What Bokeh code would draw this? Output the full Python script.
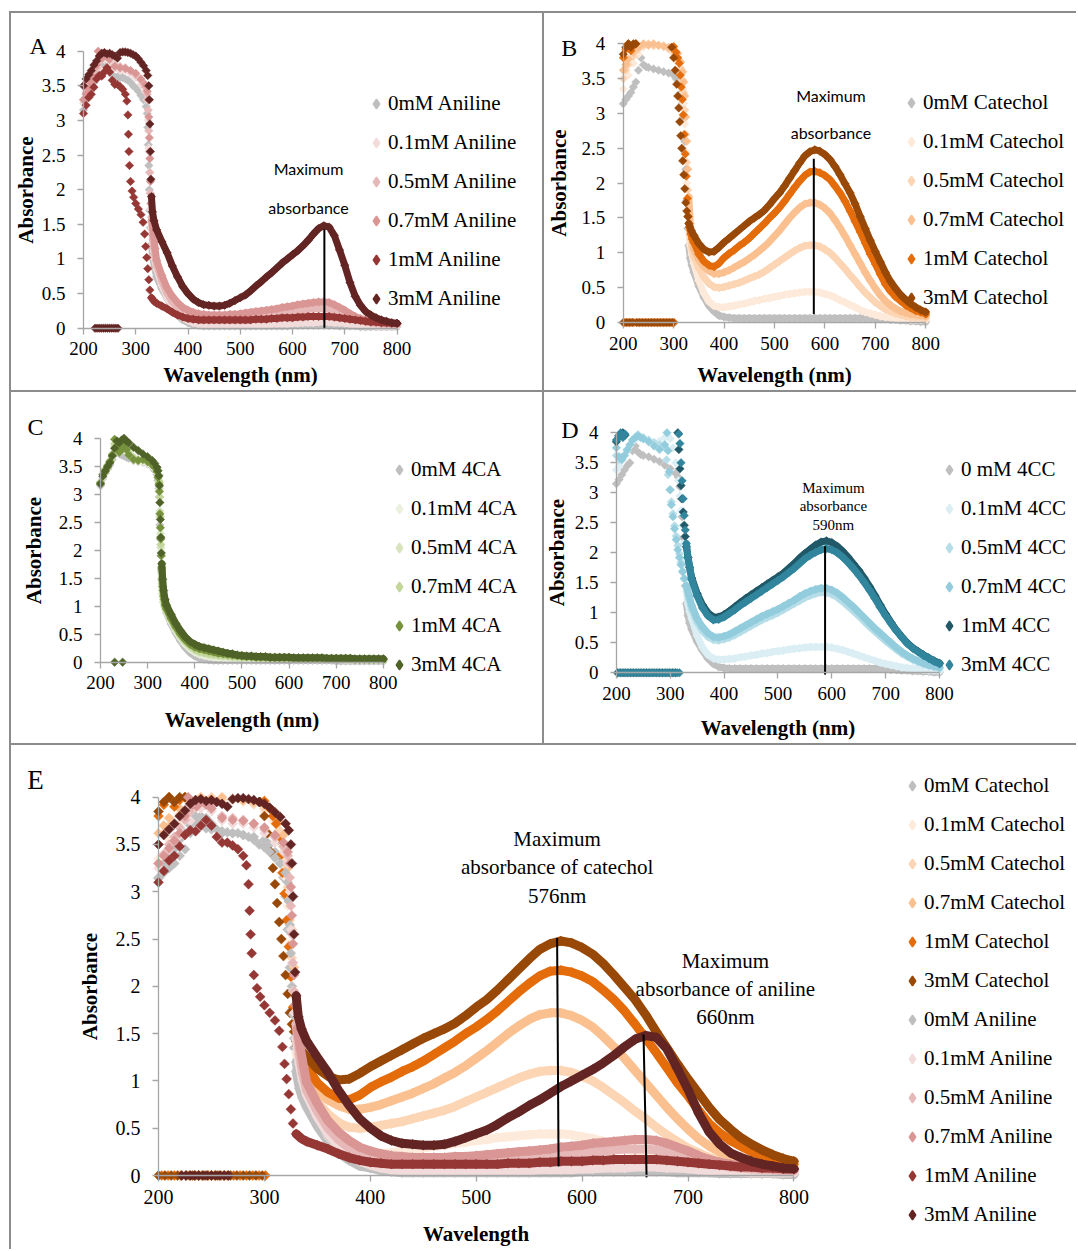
import math
from bokeh.plotting import figure
from bokeh.models import FixedTicker, NumeralTickFormatter, Legend, LegendItem, Label, Div
from bokeh.layouts import column, row
from bokeh.embed import file_html
from bokeh.resources import INLINE

# ---------------- axis ticks ----------------
X_TICKS = [200, 300, 400, 500, 600, 700, 800]
Y_TICKS = [0, 0.5, 1, 1.5, 2, 2.5, 3, 3.5, 4]

# shared visible-range wavelengths (nm)
WL_VIS = [340, 350, 360, 370, 380, 390, 400, 410, 420, 430,
          440, 450, 460, 470, 480, 490, 500, 510, 520, 530,
          540, 550, 560, 570, 580, 590, 600, 610, 620, 630,
          640, 650, 660, 670, 680, 690, 700, 710, 720, 730,
          740, 750, 760, 770, 780, 790, 800]

# ---------------- Aniline ----------------
ANILINE_LABELS = ["0mM Aniline", "0.1mM Aniline", "0.5mM Aniline", "0.7mM Aniline", "1mM Aniline", "3mM Aniline"]
ANILINE_COLORS = ["#BFBFBF", "#F2DCDB", "#E6B9B8", "#D99694", "#953735", "#632523"]

N0_UV_WL = [200, 205, 210, 215, 220, 225, 230, 235, 240, 245, 250, 255, 260, 265, 270, 275, 280, 285, 290, 295,
            300, 305, 310, 315, 320, 322, 323, 324, 325, 326, 327, 328, 330, 333, 336]
N0_UV_AB = [3.15, 3.30, 3.40, 3.45, 3.55, 3.62, 3.70, 3.75, 3.80, 3.78, 3.72, 3.66, 3.62, 3.63, 3.62, 3.62, 3.60, 3.58,
            3.55, 3.50, 3.47, 3.42, 3.36, 3.30, 3.20, 3.10, 2.90, 2.65, 2.35, 2.00, 1.70, 1.45, 1.20, 1.00, 0.88]
N0_VIS = [0.74, 0.57, 0.43, 0.30, 0.19, 0.12, 0.08, 0.05, 0.04, 0.03,
          0.03, 0.03, 0.03, 0.03, 0.03, 0.03, 0.03, 0.03, 0.03, 0.03,
          0.03, 0.03, 0.03, 0.03, 0.03, 0.03, 0.04, 0.04, 0.04, 0.04,
          0.04, 0.04, 0.04, 0.04, 0.04, 0.03, 0.03, 0.03, 0.03, 0.02,
          0.02, 0.02, 0.02, 0.02, 0.02, 0.02, 0.02]

N01_UV_WL = [200, 210, 220, 230, 240, 250, 260, 270, 280, 290, 300, 310, 318, 322, 324, 325, 326, 327, 328, 330, 333, 336]
N01_UV_AB = [3.25, 3.45, 3.60, 3.75, 3.88, 3.85, 3.75, 3.72, 3.72, 3.68, 3.62, 3.52, 3.42, 3.30, 3.00, 2.60, 2.25,
             1.95, 1.72, 1.45, 1.18, 1.00]
N01_VIS = [0.85, 0.62, 0.44, 0.31, 0.22, 0.15, 0.11, 0.08, 0.06, 0.05,
           0.05, 0.05, 0.05, 0.05, 0.05, 0.05, 0.05, 0.05, 0.05, 0.05,
           0.05, 0.05, 0.06, 0.06, 0.06, 0.06, 0.07, 0.07, 0.08, 0.08,
           0.08, 0.09, 0.09, 0.09, 0.08, 0.08, 0.07, 0.06, 0.05, 0.05,
           0.04, 0.04, 0.03, 0.03, 0.03, 0.03, 0.03]

N05_UV_WL = [200, 205, 210, 215, 220, 225, 230, 235, 240, 245, 250, 260, 270, 280, 290, 300, 310, 318, 322, 324,
             325, 326, 327, 328, 330, 333, 336]
N05_UV_AB = [3.30, 3.40, 3.50, 3.58, 3.68, 3.76, 3.85, 3.92, 3.97, 3.94, 3.90, 3.80, 3.78, 3.76, 3.72, 3.66, 3.58,
             3.48, 3.38, 3.15, 2.85, 2.55, 2.25, 1.95, 1.60, 1.28, 1.08]
N05_VIS = [0.90, 0.68, 0.50, 0.38, 0.29, 0.23, 0.19, 0.16, 0.15, 0.14,
           0.13, 0.13, 0.13, 0.13, 0.14, 0.14, 0.15, 0.15, 0.16, 0.17,
           0.18, 0.19, 0.20, 0.21, 0.22, 0.23, 0.24, 0.25, 0.26, 0.27,
           0.28, 0.28, 0.28, 0.27, 0.25, 0.22, 0.19, 0.16, 0.13, 0.11,
           0.09, 0.08, 0.07, 0.06, 0.06, 0.05, 0.05]

N07_UV_WL = [200, 205, 210, 215, 220, 225, 228, 232, 236, 240, 245, 250, 260, 270, 280, 290, 300, 310, 318, 322,
             324, 325, 326, 327, 328, 329, 331, 334, 337]
N07_UV_AB = [3.30, 3.38, 3.46, 3.54, 3.62, 3.80, 4.00, 3.92, 3.90, 3.95, 3.92, 3.88, 3.78, 3.76, 3.75, 3.72, 3.68,
             3.60, 3.52, 3.42, 3.30, 3.05, 2.75, 2.45, 2.12, 1.80, 1.55, 1.34, 1.15]
N07_VIS = [0.98, 0.76, 0.58, 0.46, 0.37, 0.30, 0.26, 0.23, 0.21, 0.20,
           0.19, 0.19, 0.19, 0.19, 0.20, 0.20, 0.21, 0.22, 0.23, 0.24,
           0.25, 0.26, 0.27, 0.28, 0.30, 0.31, 0.32, 0.34, 0.35, 0.36,
           0.37, 0.38, 0.38, 0.37, 0.34, 0.30, 0.26, 0.21, 0.17, 0.14,
           0.12, 0.10, 0.09, 0.08, 0.07, 0.07, 0.06]

N1_UV_WL = [200, 205, 210, 215, 220, 225, 230, 235, 240, 245, 250, 255, 260, 265, 270, 275, 280, 283, 285, 286,
            287, 288, 290, 293, 296, 300, 305, 310, 314, 317, 319, 321, 323, 325, 327, 330, 335]
N1_UV_AB = [3.10, 3.22, 3.33, 3.38, 3.48, 3.60, 3.65, 3.64, 3.70, 3.76, 3.70, 3.58, 3.52, 3.52, 3.49, 3.45, 3.38,
            3.28, 3.08, 2.80, 2.55, 2.35, 2.12, 1.98, 1.89, 1.80, 1.72, 1.64, 1.53, 1.36, 1.18, 1.02, 0.86, 0.70,
            0.55, 0.44, 0.39]
N1_VIS = [0.36, 0.32, 0.28, 0.23, 0.19, 0.16, 0.14, 0.13, 0.12, 0.12,
          0.12, 0.12, 0.12, 0.12, 0.12, 0.12, 0.12, 0.12, 0.12, 0.13,
          0.13, 0.13, 0.14, 0.14, 0.15, 0.15, 0.15, 0.16, 0.16, 0.17,
          0.17, 0.17, 0.17, 0.17, 0.16, 0.15, 0.14, 0.13, 0.12, 0.11,
          0.10, 0.09, 0.09, 0.08, 0.08, 0.07, 0.07]

N3_UV_WL = [200, 205, 210, 215, 220, 225, 230, 235, 240, 245, 250, 255, 260, 265, 270, 275, 280, 285, 290, 295,
            300, 305, 310, 315, 320, 323, 325, 326, 327, 328, 329, 330, 332, 335]
N3_UV_AB = [3.50, 3.60, 3.66, 3.72, 3.80, 3.86, 3.93, 3.97, 3.98, 3.96, 3.97, 3.95, 3.93, 3.90, 3.98, 3.99, 3.99,
            3.98, 3.97, 3.95, 3.93, 3.89, 3.84, 3.79, 3.72, 3.65, 3.50, 3.30, 2.95, 2.55, 2.15, 1.90, 1.68, 1.55]
N3_VIS = [1.42, 1.25, 1.09, 0.90, 0.74, 0.60, 0.50, 0.42, 0.37, 0.34,
          0.33, 0.32, 0.32, 0.33, 0.36, 0.40, 0.44, 0.48, 0.54, 0.61,
          0.67, 0.74, 0.80, 0.87, 0.94, 1.00, 1.06, 1.12, 1.19, 1.27,
          1.36, 1.44, 1.48, 1.46, 1.34, 1.13, 0.91, 0.66, 0.46, 0.33,
          0.24, 0.19, 0.15, 0.12, 0.10, 0.08, 0.07]
N3_ZEROS = [222, 226, 230, 234, 238, 242, 246, 250, 254, 258, 262, 266]

# ---------------- Catechol ----------------
CATECHOL_LABELS = ["0mM Catechol", "0.1mM Catechol", "0.5mM Catechol", "0.7mM Catechol", "1mM Catechol", "3mM Catechol"]
CATECHOL_COLORS = ["#BFBFBF", "#FDEADA", "#FCD5B5", "#FAC090", "#E46C0A", "#984807"]

C0_UV_WL = [200, 205, 210, 215, 220, 225, 230, 235, 240, 245, 250, 260, 270, 280, 290, 300, 305, 310, 315, 318,
            320, 322, 324, 326, 328, 330, 333, 336]
C0_UV_AB = [3.14, 3.20, 3.25, 3.30, 3.38, 3.45, 3.62, 3.80, 3.70, 3.67, 3.66, 3.64, 3.62, 3.60, 3.58, 3.55, 3.50,
            3.42, 3.30, 3.15, 2.95, 2.60, 2.20, 1.75, 1.35, 1.10, 0.92, 0.82]
C0_VIS = [0.72, 0.52, 0.36, 0.24, 0.16, 0.10, 0.08, 0.07, 0.06, 0.06,
          0.06, 0.06, 0.06, 0.06, 0.06, 0.06, 0.06, 0.06, 0.06, 0.06,
          0.06, 0.06, 0.06, 0.06, 0.06, 0.06, 0.06, 0.06, 0.06, 0.06,
          0.06, 0.06, 0.06, 0.06, 0.06, 0.06, 0.06, 0.05, 0.05, 0.04,
          0.04, 0.03, 0.03, 0.02, 0.02, 0.01, 0.01]

C01_UV_WL = [200, 210, 220, 230, 240, 250, 260, 270, 280, 290, 300, 308, 314, 318, 320, 322, 324, 326, 328, 330, 333, 336]
C01_UV_AB = [3.35, 3.55, 3.72, 3.85, 3.95, 4.00, 3.98, 3.97, 3.95, 3.92, 3.85, 3.75, 3.55, 3.35, 3.15, 2.85, 2.45,
             2.00, 1.60, 1.30, 1.10, 0.98]
C01_VIS = [0.85, 0.60, 0.42, 0.30, 0.24, 0.22, 0.22, 0.23, 0.24, 0.26,
           0.27, 0.29, 0.31, 0.32, 0.34, 0.35, 0.37, 0.38, 0.40, 0.41,
           0.42, 0.43, 0.44, 0.44, 0.44, 0.43, 0.41, 0.39, 0.36, 0.32,
           0.29, 0.25, 0.22, 0.18, 0.15, 0.13, 0.11, 0.09, 0.08, 0.07,
           0.06, 0.05, 0.05, 0.04, 0.04, 0.04, 0.04]

C05_UV_WL = [200, 205, 210, 220, 230, 240, 250, 260, 270, 280, 290, 300, 308, 314, 318, 320, 322, 324, 326, 328,
             330, 333, 336]
C05_UV_AB = [3.50, 3.62, 3.70, 3.82, 3.92, 3.98, 4.00, 3.97, 3.98, 3.96, 3.93, 3.88, 3.80, 3.65, 3.48, 3.30, 3.05,
             2.70, 2.30, 1.90, 1.55, 1.25, 1.08]
C05_VIS = [0.95, 0.78, 0.65, 0.56, 0.51, 0.50, 0.51, 0.53, 0.55, 0.57,
           0.60, 0.63, 0.66, 0.69, 0.73, 0.78, 0.83, 0.88, 0.93, 0.98,
           1.03, 1.07, 1.10, 1.11, 1.11, 1.09, 1.05, 1.00, 0.93, 0.85,
           0.77, 0.68, 0.60, 0.51, 0.43, 0.36, 0.29, 0.24, 0.19, 0.16,
           0.13, 0.11, 0.09, 0.08, 0.07, 0.07, 0.06]

C07_UV_WL = [200, 205, 210, 220, 230, 240, 250, 260, 270, 280, 290, 300, 308, 314, 318, 320, 322, 324, 326, 328,
             330, 333, 336]
C07_UV_AB = [3.62, 3.70, 3.78, 3.88, 3.95, 4.00, 3.98, 4.00, 3.98, 3.97, 3.95, 3.92, 3.86, 3.74, 3.60, 3.45, 3.25,
             2.95, 2.60, 2.20, 1.80, 1.42, 1.20]
C07_VIS = [1.05, 0.90, 0.80, 0.74, 0.70, 0.70, 0.72, 0.75, 0.79, 0.83,
           0.87, 0.92, 0.97, 1.03, 1.09, 1.16, 1.24, 1.32, 1.41, 1.50,
           1.58, 1.65, 1.70, 1.72, 1.72, 1.69, 1.64, 1.57, 1.47, 1.36,
           1.24, 1.11, 0.98, 0.85, 0.72, 0.60, 0.49, 0.39, 0.31, 0.25,
           0.20, 0.16, 0.14, 0.12, 0.11, 0.10, 0.09]

C1_UV_WL = [200, 205, 210, 215, 220, 225, 300, 305, 308, 311, 313, 315, 317, 319, 321, 323, 325, 327, 329, 331, 334, 337]
C1_UV_AB = [3.80, 3.92, 4.00, 3.90, 3.97, 4.00, 3.96, 3.88, 3.80, 3.72, 3.55, 3.38, 3.20, 2.98, 2.70, 2.42, 2.10,
            1.78, 1.52, 1.37, 1.27, 1.20]
C1_VIS = [1.15, 0.98, 0.88, 0.82, 0.80, 0.85, 0.93, 0.99, 1.04, 1.10,
          1.15, 1.21, 1.28, 1.35, 1.42, 1.50, 1.57, 1.65, 1.74, 1.84,
          1.94, 2.03, 2.11, 2.16, 2.17, 2.15, 2.11, 2.05, 1.96, 1.86,
          1.74, 1.60, 1.45, 1.30, 1.14, 0.98, 0.84, 0.69, 0.55, 0.45,
          0.37, 0.31, 0.25, 0.21, 0.17, 0.15, 0.12]
C1_ZEROS = [203, 209, 215, 221, 229, 235, 241, 247, 253, 259, 265, 271, 277, 283, 289, 295, 301]

C3_UV_WL = [200, 205, 210, 215, 220, 225, 296, 300, 303, 306, 308, 310, 312, 314, 316, 318, 320, 322, 324, 326,
            328, 330, 335]
C3_UV_AB = [3.85, 3.95, 4.00, 3.95, 4.00, 4.00, 3.95, 3.80, 3.62, 3.42, 3.25, 3.08, 2.88, 2.68, 2.50, 2.32, 2.12,
            1.92, 1.72, 1.60, 1.52, 1.42, 1.32]
C3_VIS = [1.25, 1.13, 1.05, 1.01, 1.02, 1.08, 1.15, 1.21, 1.27, 1.33,
          1.39, 1.45, 1.50, 1.55, 1.61, 1.69, 1.78, 1.86, 1.96, 2.07,
          2.18, 2.29, 2.39, 2.45, 2.48, 2.46, 2.41, 2.34, 2.24, 2.12,
          1.99, 1.86, 1.70, 1.52, 1.35, 1.18, 1.02, 0.87, 0.72, 0.59,
          0.49, 0.40, 0.33, 0.27, 0.22, 0.18, 0.15]
C3_ZEROS = [200, 206, 212, 218, 226, 232, 238, 244, 250, 256, 262, 268, 274, 280, 286, 292, 298]

# ---------------- 4CA ----------------
CA_LABELS = ["0mM 4CA", "0.1mM 4CA", "0.5mM 4CA", "0.7mM 4CA", "1mM 4CA", "3mM 4CA"]
CA_COLORS = ["#BFBFBF", "#EBF1DE", "#D7E4BD", "#C3D69B", "#76923C", "#4F6228"]
CA_UV_WL = [200, 205, 210, 215, 220, 225, 230, 235, 240, 245, 250, 255, 260, 270, 280, 290, 300, 310, 315, 320,
            322, 324, 325, 326, 327, 328, 329, 330, 332, 334, 337]
CA0_UV = [3.15, 3.28, 3.38, 3.45, 3.52, 3.62, 3.72, 3.80, 3.72, 3.70, 3.68, 3.66, 3.64, 3.60, 3.58, 3.57, 3.54,
          3.48, 3.42, 3.35, 3.25, 3.10, 2.95, 2.45, 2.20, 1.90, 1.65, 1.45, 1.22, 1.08, 0.98]
CA01_UV = [3.18, 3.30, 3.42, 3.48, 3.56, 3.66, 3.82, 3.80, 3.76, 3.78, 3.80, 3.76, 3.70, 3.62, 3.58, 3.58, 3.55,
           3.50, 3.45, 3.38, 3.30, 3.20, 3.05, 2.60, 2.25, 2.00, 1.58, 1.35, 1.18, 1.05, 0.95]
CA05_UV = [3.20, 3.34, 3.44, 3.50, 3.58, 3.70, 3.86, 3.84, 3.78, 3.80, 3.84, 3.80, 3.72, 3.64, 3.60, 3.60, 3.57,
           3.52, 3.47, 3.40, 3.32, 3.22, 3.10, 2.70, 2.30, 2.05, 1.62, 1.40, 1.22, 1.08, 0.98]
CA07_UV = [3.22, 3.36, 3.45, 3.52, 3.60, 3.72, 3.90, 3.88, 3.80, 3.82, 3.88, 3.82, 3.75, 3.66, 3.62, 3.63, 3.60,
           3.55, 3.50, 3.42, 3.34, 3.24, 3.20, 2.95, 2.60, 2.10, 1.70, 1.50, 1.28, 1.12, 1.00]
CA1_UV = [3.20, 3.35, 3.40, 3.48, 3.58, 3.70, 3.98, 3.85, 3.75, 3.80, 3.85, 3.80, 3.70, 3.62, 3.60, 3.62, 3.58,
          3.52, 3.48, 3.40, 3.30, 3.18, 3.05, 2.65, 2.40, 2.20, 1.90, 1.68, 1.35, 1.18, 1.02]
CA3_UV = [3.18, 3.32, 3.42, 3.50, 3.56, 3.68, 3.82, 3.95, 3.92, 3.97, 4.00, 3.95, 3.92, 3.84, 3.78, 3.72, 3.67,
          3.60, 3.55, 3.48, 3.42, 3.33, 3.15, 2.85, 2.55, 2.23, 1.95, 1.76, 1.48, 1.28, 1.12]
CA0_VIS = [0.88, 0.68, 0.52, 0.38, 0.26, 0.17, 0.11, 0.07, 0.05, 0.04,
           0.03, 0.03, 0.03, 0.03, 0.03, 0.03, 0.03, 0.03, 0.03, 0.03,
           0.03, 0.03, 0.03, 0.03, 0.03, 0.03, 0.03, 0.03, 0.03, 0.03,
           0.03, 0.03, 0.03, 0.03, 0.03, 0.03, 0.02, 0.02, 0.02, 0.02,
           0.02, 0.02, 0.02, 0.02, 0.02, 0.02, 0.02]
CA01_VIS = [0.90, 0.72, 0.56, 0.43, 0.32, 0.24, 0.18, 0.14, 0.12, 0.10,
            0.09, 0.08, 0.08, 0.07, 0.07, 0.07, 0.07, 0.07, 0.06, 0.06,
            0.06, 0.06, 0.06, 0.06, 0.06, 0.06, 0.06, 0.05, 0.05, 0.05,
            0.05, 0.05, 0.05, 0.05, 0.05, 0.05, 0.05, 0.05, 0.04, 0.04,
            0.04, 0.04, 0.04, 0.04, 0.04, 0.04, 0.04]
CA05_VIS = [0.92, 0.74, 0.58, 0.45, 0.35, 0.27, 0.21, 0.17, 0.15, 0.13,
            0.12, 0.11, 0.10, 0.10, 0.09, 0.09, 0.08, 0.08, 0.08, 0.08,
            0.07, 0.07, 0.07, 0.07, 0.07, 0.07, 0.07, 0.06, 0.06, 0.06,
            0.06, 0.06, 0.06, 0.06, 0.06, 0.05, 0.05, 0.05, 0.05, 0.05,
            0.05, 0.05, 0.05, 0.04, 0.04, 0.04, 0.04]
CA07_VIS = [0.93, 0.76, 0.60, 0.47, 0.37, 0.29, 0.23, 0.19, 0.17, 0.15,
            0.14, 0.13, 0.12, 0.11, 0.10, 0.10, 0.09, 0.09, 0.09, 0.08,
            0.08, 0.08, 0.08, 0.08, 0.07, 0.07, 0.07, 0.07, 0.07, 0.07,
            0.07, 0.06, 0.06, 0.06, 0.06, 0.06, 0.06, 0.06, 0.06, 0.05,
            0.05, 0.05, 0.05, 0.05, 0.05, 0.05, 0.05]
CA1_VIS = [0.95, 0.78, 0.63, 0.50, 0.40, 0.32, 0.27, 0.24, 0.22, 0.20,
           0.18, 0.16, 0.15, 0.14, 0.13, 0.12, 0.11, 0.10, 0.10, 0.09,
           0.09, 0.09, 0.08, 0.08, 0.08, 0.08, 0.08, 0.07, 0.07, 0.07,
           0.07, 0.07, 0.07, 0.07, 0.06, 0.06, 0.06, 0.06, 0.06, 0.06,
           0.05, 0.05, 0.05, 0.05, 0.05, 0.05, 0.05]
CA3_VIS = [1.02, 0.85, 0.69, 0.56, 0.45, 0.37, 0.32, 0.28, 0.26, 0.24,
           0.22, 0.20, 0.18, 0.16, 0.15, 0.13, 0.12, 0.11, 0.11, 0.10,
           0.10, 0.10, 0.09, 0.09, 0.09, 0.09, 0.09, 0.08, 0.08, 0.08,
           0.08, 0.08, 0.08, 0.08, 0.07, 0.07, 0.07, 0.07, 0.07, 0.07,
           0.06, 0.06, 0.06, 0.06, 0.06, 0.06, 0.06]
CA3_ZEROS = [230, 247]

# ---------------- 4CC ----------------
CC_LABELS = ["0 mM 4CC", "0.1mM 4CC", "0.5mM 4CC", "0.7mM 4CC", "1mM 4CC", "3mM 4CC"]
CC_COLORS = ["#BFBFBF", "#DBEEF4", "#B7DEE8", "#93CDDD", "#215968", "#31859C"]

D0_UV_WL = [200, 205, 210, 215, 220, 225, 230, 235, 240, 245, 250, 260, 270, 280, 290, 300, 310, 315, 318, 320,
            322, 324, 326, 328, 330, 333, 336]
D0_UV_AB = [3.15, 3.22, 3.30, 3.38, 3.45, 3.50, 3.70, 3.78, 3.68, 3.64, 3.62, 3.60, 3.56, 3.52, 3.46, 3.40, 3.32,
            3.26, 3.10, 2.90, 2.60, 2.25, 1.85, 1.45, 1.15, 0.95, 0.83]
D0_VIS = [0.72, 0.52, 0.37, 0.24, 0.15, 0.10, 0.08, 0.07, 0.07, 0.07,
          0.07, 0.07, 0.07, 0.07, 0.07, 0.07, 0.07, 0.07, 0.07, 0.07,
          0.07, 0.07, 0.07, 0.07, 0.07, 0.07, 0.07, 0.07, 0.07, 0.07,
          0.07, 0.07, 0.07, 0.07, 0.07, 0.07, 0.06, 0.05, 0.05, 0.04,
          0.04, 0.03, 0.03, 0.02, 0.02, 0.01, 0.01]

D01_UV_WL = [200, 205, 210, 215, 220, 225, 230, 235, 240, 250, 260, 270, 280, 290, 295, 300, 305, 310, 315, 318,
             320, 322, 324, 326, 328, 330, 333, 336]
D01_UV_AB = [3.38, 3.45, 3.55, 3.62, 3.70, 3.78, 3.85, 3.90, 3.92, 3.90, 3.85, 3.82, 3.86, 3.92, 3.95, 3.90, 3.75,
             3.50, 3.20, 2.95, 2.70, 2.45, 2.15, 1.85, 1.55, 1.35, 1.15, 1.02]
D01_VIS = [0.90, 0.62, 0.42, 0.30, 0.24, 0.22, 0.22, 0.23, 0.24, 0.26,
           0.27, 0.29, 0.30, 0.32, 0.33, 0.35, 0.36, 0.37, 0.39, 0.40,
           0.41, 0.42, 0.43, 0.43, 0.43, 0.43, 0.42, 0.40, 0.38, 0.35,
           0.32, 0.29, 0.26, 0.23, 0.20, 0.17, 0.15, 0.13, 0.11, 0.09,
           0.08, 0.07, 0.06, 0.05, 0.04, 0.04, 0.03]

D05_UV_WL = [200, 205, 210, 220, 230, 240, 250, 260, 270, 280, 290, 293, 296, 299, 302, 305, 308, 311, 314, 317,
             320, 323, 326, 330, 335]
D05_UV_AB = [3.62, 3.55, 3.60, 3.70, 3.88, 3.97, 3.92, 3.88, 3.84, 3.80, 3.75, 3.55, 3.30, 3.05, 2.85, 2.65, 2.45,
             2.28, 2.12, 1.98, 1.84, 1.70, 1.57, 1.42, 1.22]
D05_VIS = [1.05, 0.84, 0.70, 0.60, 0.55, 0.54, 0.56, 0.59, 0.63, 0.68,
           0.73, 0.78, 0.83, 0.88, 0.92, 0.96, 1.00, 1.05, 1.10, 1.15,
           1.20, 1.25, 1.29, 1.32, 1.34, 1.34, 1.31, 1.26, 1.19, 1.11,
           1.03, 0.95, 0.86, 0.77, 0.69, 0.61, 0.53, 0.46, 0.39, 0.32,
           0.27, 0.22, 0.18, 0.15, 0.12, 0.10, 0.08]

D07_UV_WL = [200, 205, 210, 215, 220, 225, 230, 235, 240, 245, 250, 260, 270, 280, 290, 294, 296, 298, 300, 302,
             305, 308, 311, 314, 317, 320, 323, 326, 330, 335]
D07_UV_AB = [3.75, 3.60, 3.55, 3.62, 3.72, 3.80, 3.88, 3.92, 3.95, 3.92, 3.90, 3.85, 3.78, 3.72, 3.80, 4.00, 3.70,
             3.35, 3.05, 2.80, 2.60, 2.40, 2.22, 2.05, 1.92, 1.80, 1.68, 1.57, 1.45, 1.28]
D07_VIS = [1.12, 0.90, 0.76, 0.66, 0.60, 0.59, 0.61, 0.64, 0.69, 0.74,
           0.79, 0.84, 0.89, 0.94, 0.98, 1.02, 1.06, 1.11, 1.16, 1.21,
           1.27, 1.32, 1.36, 1.39, 1.41, 1.41, 1.38, 1.33, 1.26, 1.18,
           1.10, 1.01, 0.92, 0.83, 0.74, 0.66, 0.58, 0.50, 0.42, 0.35,
           0.29, 0.24, 0.20, 0.16, 0.13, 0.11, 0.09]

D1_UV_WL = [200, 204, 208, 212, 216, 314, 316, 318, 320, 322, 324, 326, 328, 330, 333, 336]
D1_UV_AB = [3.85, 3.92, 3.98, 4.00, 3.96, 4.00, 3.72, 3.40, 3.12, 2.90, 2.68, 2.46, 2.27, 2.10, 1.92, 1.76]
D1_VIS = [1.58, 1.32, 1.13, 1.00, 0.93, 0.93, 0.97, 1.03, 1.10, 1.17,
          1.24, 1.30, 1.36, 1.42, 1.48, 1.54, 1.60, 1.66, 1.74, 1.82,
          1.91, 1.99, 2.06, 2.13, 2.18, 2.20, 2.17, 2.11, 2.03, 1.93,
          1.82, 1.71, 1.58, 1.44, 1.29, 1.13, 0.98, 0.84, 0.71, 0.60,
          0.50, 0.42, 0.36, 0.30, 0.25, 0.20, 0.16]
D1_ZEROS = [202, 208, 214, 220, 226, 232, 238, 244, 250, 256, 262, 268, 274, 280, 286, 292, 298, 304, 310]

D3_UV_WL = [200, 204, 208, 212, 216, 316, 318, 320, 322, 324, 326, 328, 330, 333, 336]
D3_UV_AB = [3.88, 3.95, 4.00, 3.92, 3.98, 3.98, 3.82, 3.50, 3.20, 2.90, 2.62, 2.38, 2.15, 1.92, 1.76]
D3_VIS = [1.55, 1.28, 1.08, 0.95, 0.88, 0.89, 0.93, 0.99, 1.05, 1.12,
          1.18, 1.24, 1.30, 1.36, 1.42, 1.48, 1.54, 1.60, 1.67, 1.74,
          1.82, 1.90, 1.96, 2.01, 2.05, 2.07, 2.05, 2.00, 1.93, 1.84,
          1.74, 1.63, 1.51, 1.38, 1.24, 1.09, 0.95, 0.82, 0.70, 0.59,
          0.49, 0.41, 0.35, 0.29, 0.24, 0.19, 0.15]
D3_ZEROS = [205, 211, 217, 223, 229, 235, 241, 247, 253, 259, 265, 271, 277, 283, 289, 295, 301, 307, 313, 317]

# ---------------- series assembly ----------------
ANILINE = [(N0_UV_WL, N0_UV_AB, N0_VIS, []), (N01_UV_WL, N01_UV_AB, N01_VIS, []),
           (N05_UV_WL, N05_UV_AB, N05_VIS, []), (N07_UV_WL, N07_UV_AB, N07_VIS, []),
           (N1_UV_WL, N1_UV_AB, N1_VIS, []), (N3_UV_WL, N3_UV_AB, N3_VIS, N3_ZEROS)]
CATECHOL = [(C0_UV_WL, C0_UV_AB, C0_VIS, []), (C01_UV_WL, C01_UV_AB, C01_VIS, []),
            (C05_UV_WL, C05_UV_AB, C05_VIS, []), (C07_UV_WL, C07_UV_AB, C07_VIS, []),
            (C1_UV_WL, C1_UV_AB, C1_VIS, C1_ZEROS), (C3_UV_WL, C3_UV_AB, C3_VIS, C3_ZEROS)]
FOUR_CA = [(CA_UV_WL, CA0_UV, CA0_VIS, []), (CA_UV_WL, CA01_UV, CA01_VIS, []),
           (CA_UV_WL, CA05_UV, CA05_VIS, []), (CA_UV_WL, CA07_UV, CA07_VIS, []),
           (CA_UV_WL, CA1_UV, CA1_VIS, []), (CA_UV_WL, CA3_UV, CA3_VIS, CA3_ZEROS)]
FOUR_CC = [(D0_UV_WL, D0_UV_AB, D0_VIS, []), (D01_UV_WL, D01_UV_AB, D01_VIS, []),
           (D05_UV_WL, D05_UV_AB, D05_VIS, []), (D07_UV_WL, D07_UV_AB, D07_VIS, []),
           (D1_UV_WL, D1_UV_AB, D1_VIS, D1_ZEROS), (D3_UV_WL, D3_UV_AB, D3_VIS, D3_ZEROS)]

SERIF = "Liberation Serif"
AXIS_GREY = "#a6a6a6"
BORDER_GREY = "#8c8c8c"
LINE_FROM = 330


def make_panel(W, H, fx, fy, x200, x800, y4, y0, tick_fs, title_fs, xlab, x_std, y_std):
    # the plot frame fills the whole panel; axes sit at x=200 / y=0 (fixed location)
    sx = (x800 - x200) / 600.0
    sy = (y0 - y4) / 4.0
    xlo = 200 - (x200 - fx) / sx
    xhi = xlo + W / sx
    yhi = 4 + (y4 - fy) / sy
    ylo = yhi - H / sy
    p = figure(width=W, height=H, x_range=(xlo, xhi), y_range=(ylo, yhi),
               output_backend="svg", toolbar_location=None,
               min_border_left=0, min_border_right=0, min_border_top=0, min_border_bottom=0,
               x_axis_label=xlab, y_axis_label="Absorbance")
    p.grid.visible = False
    p.outline_line_color = None
    p.background_fill_color = "white"
    p.border_fill_color = "white"
    p.xaxis.fixed_location = 0
    p.yaxis.fixed_location = 200
    p.xaxis.bounds = (200, 800)
    p.yaxis.bounds = (0, 4)
    p.xaxis.ticker = FixedTicker(ticks=X_TICKS)
    p.yaxis.ticker = FixedTicker(ticks=Y_TICKS)
    p.yaxis.formatter = NumeralTickFormatter(format="0.[0]")
    for ax in (p.xaxis, p.yaxis):
        ax.axis_line_color = AXIS_GREY
        ax.axis_line_width = 1.3
        ax.major_tick_line_color = AXIS_GREY
        ax.major_tick_line_width = 1.3
        ax.major_tick_in = 0
        ax.major_tick_out = 6
        ax.minor_tick_line_color = None
        ax.major_label_text_font = SERIF
        ax.major_label_text_font_size = f"{tick_fs}px"
        ax.major_label_text_color = "black"
        ax.axis_label_text_font = SERIF
        ax.axis_label_text_font_style = "bold"
        ax.axis_label_text_font_size = f"{title_fs}px"
        ax.axis_label_text_color = "black"
    p.xaxis.major_label_standoff = 8
    p.yaxis.major_label_standoff = 12
    p.xaxis.axis_label_standoff = x_std
    p.yaxis.axis_label_standoff = y_std
    geo = dict(fx=fx, fy=fy, W=W, H=H)
    return p, geo


def draw_group(p, group, colors, size, lw):
    rs = []
    for (uwl, uab, vis, zeros), c in zip(group, colors):
        wl = list(uwl) + WL_VIS
        ab = list(uab) + list(vis)
        lx = [x for x in wl if x >= LINE_FROM]
        ly = [y for x, y in zip(wl, ab) if x >= LINE_FROM]
        p.line(lx, ly, line_color=c, line_width=lw, line_join="round", line_cap="round")
        xs = wl + list(zeros)
        ys = ab + [0] * len(zeros)
        p.scatter(xs, ys, marker="square", size=size, angle=math.pi / 4,
                  fill_color=c, line_color=c, line_width=0.5)
        # legend swatch renderer (Excel-style diamond; zero size so it adds nothing to the plot)
        rs.append(p.scatter(xs, ys, marker="diamond", size=0, fill_color=c, line_color=c,
                            line_width=1.5))
    return rs


def add_legend(p, geo, renderers, labels, gx, gy1, fs, item_h, spacing, standoff=-2, gw=24):
    n = len(labels)
    height = n * item_h + (n - 1) * spacing
    top = gy1 - item_h / 2.0
    vx = (gx - gw / 2.0) - geo["fx"]
    vy = (geo["fy"] + geo["H"]) - (top + height)
    items = [LegendItem(label=l, renderers=[r]) for l, r in zip(labels, renderers)]
    lg = Legend(items=items, location=(round(vx), round(vy)), orientation="vertical",
                spacing=spacing, padding=0, margin=0, glyph_width=gw, glyph_height=item_h,
                label_height=item_h, label_standoff=standoff, label_text_font=SERIF,
                label_text_font_size=f"{fs}px", label_text_color="black",
                border_line_color=None, background_fill_alpha=0)
    p.add_layout(lg)


def add_text(p, x, y, text, font, fs, align="center", baseline="middle"):
    p.add_layout(Label(x=x, y=y, text=text, text_font=font, text_font_size=f"{fs}px",
                       text_align=align, text_baseline=baseline, text_color="black"))


# ---------------- Panel A ----------------
pA, gA = make_panel(531, 377, 11, 13, 83, 396.5, 50.7, 327.7, 19, 21, "Wavelength (nm)", 4, 1)
rA = draw_group(pA, ANILINE, ANILINE_COLORS, 6, 7)
pA.segment(x0=[661], y0=[0], x1=[661], y1=[1.43], line_color="black", line_width=2)
add_text(pA, 630.6, 2.30, "Maximum", "Lato", 16)
add_text(pA, 630.6, 1.75, "absorbance", "Lato", 16)
add_text(pA, 96.6, 4.075, "A", SERIF, 24, "left")
add_legend(pA, gA, rA, ANILINE_LABELS, 376, 103.5, 21, 25, 14)

# ---------------- Panel B ----------------
pB, gB = make_panel(532, 377, 544, 13, 622.8, 925.2, 43.3, 322, 19, 21, "Wavelength (nm)", 10, 8)
rB = draw_group(pB, CATECHOL, CATECHOL_COLORS, 6, 7)
pB.segment(x0=[578], y0=[0.12], x1=[578], y1=[2.35], line_color="black", line_width=2)
add_text(pB, 612, 3.26, "Maximum", "Lato", 16)
add_text(pB, 612, 2.72, "absorbance", "Lato", 16)
add_text(pB, 76.8, 3.94, "B", SERIF, 24, "left")
add_legend(pB, gB, rB, CATECHOL_LABELS, 910.7, 103, 21, 25, 14)

# ---------------- Panel C ----------------
pC, gC = make_panel(531, 351, 11, 392, 100, 382.8, 437.7, 661.7, 19, 21, "Wavelength (nm)", 15, 10)
rC = draw_group(pC, FOUR_CA, CA_COLORS, 6, 7)
add_text(pC, 45.1, 4.2, "C", SERIF, 24, "left")
add_legend(pC, gC, rC, CA_LABELS, 399, 469, 21, 25, 14)

# ---------------- Panel D ----------------
pD, gD = make_panel(532, 351, 544, 392, 615.9, 939, 432.3, 672.3, 19, 21, "Wavelength (nm)", 13, 3)
rD = draw_group(pD, FOUR_CC, CC_COLORS, 6, 7)
pD.segment(x0=[587.5], y0=[-0.03], x1=[587.5], y1=[2.11], line_color="black", line_width=2)
add_text(pD, 603, 3.085, "Maximum", SERIF, 15)
add_text(pD, 603, 2.775, "absorbance", SERIF, 15)
add_text(pD, 603, 2.47, "590nm", SERIF, 15)
add_text(pD, 97.5, 4.055, "D", SERIF, 24, "left")
add_legend(pD, gD, rD, CC_LABELS, 949.3, 469, 21, 25, 14)

# ---------------- Panel E ----------------
pE, gE = make_panel(1065, 504, 11, 745, 158, 793.4, 796.7, 1175, 20, 21, "Wavelength", 15, 11)
rE1 = draw_group(pE, CATECHOL, CATECHOL_COLORS, 7, 9)
rE2 = draw_group(pE, ANILINE, ANILINE_COLORS, 7, 9)
pE.segment(x0=[576.4, 658.0], y0=[2.51, 1.49], x1=[577.8, 660.9], y1=[0.095, -0.02],
           line_color="black", line_width=2)
add_text(pE, 576.4, 3.563, "Maximum", SERIF, 21)
add_text(pE, 576.4, 3.257, "absorbance of catechol", SERIF, 21)
add_text(pE, 576.4, 2.96, "576nm", SERIF, 21)
add_text(pE, 735.3, 2.263, "Maximum", SERIF, 21)
add_text(pE, 735.3, 1.967, "absorbance of aniline", SERIF, 21)
add_text(pE, 735.3, 1.671, "660nm", SERIF, 21)
add_text(pE, 76.1, 4.18, "E", SERIF, 27, "left")
add_legend(pE, gE, rE1 + rE2, CATECHOL_LABELS + ANILINE_LABELS, 911.7, 786, 21, 25, 14, standoff=-1)


# ---------------- layout with panel borders ----------------
def bar(w, h):
    return Div(text="", width=w, height=h, margin=0, styles={"background-color": BORDER_GREY})


def gap(w, h):
    return Div(text="", width=w, height=h, margin=0)


layout = column(
    gap(1076, 11),
    row(gap(9, 2), bar(1067, 2)),
    row(gap(9, 1236), bar(2, 1236),
        column(row(pA, bar(2, 377), pB),
               bar(1065, 2),
               row(pC, bar(2, 351), pD),
               bar(1065, 2),
               pE)),
)

open("out.html", "w").write(file_html(layout, INLINE))
